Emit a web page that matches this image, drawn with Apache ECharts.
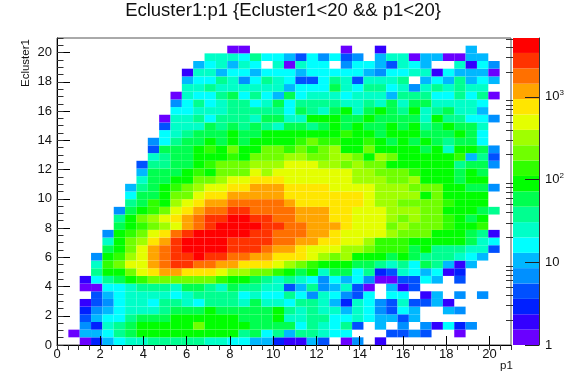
<!DOCTYPE html>
<html><head><meta charset="utf-8">
<script src="https://cdn.jsdelivr.net/npm/echarts@6/dist/echarts.min.js"></script>
<style>html,body{margin:0;padding:0;background:#fff}#c{width:567px;height:384px}</style>
</head><body><div id="c"></div>
<script>
const binWidth = 0.525;
const xTickValues = [0,2,4,6,8,10,12,14,16,18,20];
const yTickValues = [0,2,4,6,8,10,12,14,16,18,20];
const colorTickValues = [1,10,100,1000];
const colorMinorValues = [2,3,4,5,6,7,8,9,20,30,40,50,60,70,80,90,200,300,400,500,600,700,800,900,2000,3000,4000,5000];
const contourEdges = [1,1.534,2.354,3.61,5.54,8.5,13,20,30.6,47,72.1,110.6,169.7,260,399,613,940,1443,2213,3396,5150];
const palette = ['#6a00ff','#3300ff','#0020ff','#0050ff','#0090ff','#00b8ff','#00ffff','#00ffc8','#00ff90','#00ff50','#00ff00','#30ff00','#70ff00','#a0ff00','#e4ff00','#ffe600','#ffa500','#ff7000','#ff3300','#ff0000'];

// counts per bin, each row is one Ecluster1 bin from the bottom, each entry one p1 bin from the left
const row00=[0,0,1,3,10,16,25,25,38,38,38,38,38,25,25,16,16,10,10,3,2,2,10,4,0,1,7,0,2];
const row01=[0,1,10,10,16,38,58,90,90,90,90,90,90,90,90,90,38,58,16,38,10,38,38,25,16,16,0,0,0,4,4,7,4,0,0,1];
const row02=[0,0,7,3,25,38,58,90,90,90,90,90,210,90,90,90,90,58,58,58,58,16,38,25,16,38,4,0,10,0,7,0,7,2,16,3,7];
const row03=[0,0,4,10,16,16,38,58,58,58,90,90,90,90,90,90,58,58,58,90,25,25,38,38,16,16,25,16,10,10,4,10];
const row04=[0,0,3,7,10,16,25,25,25,38,58,58,58,90,58,58,58,58,58,90,38,25,38,25,25,10,25,16,7,4,16,10,0,0,10,7];
const row05=[0,0,2,4,7,16,25,25,16,38,38,25,16,38,38,38,25,58,25,25,16,38,38,25,10,3,25,16,7,4,25,4,4,10,2];
const row06=[0,0,0,4,10,16,25,25,25,25,16,25,38,38,38,38,16,25,16,16,38,16,7,25,16,7,4,16,0,16,16,0,2,10,0,7,0,7];
const row07=[0,0,1,1,16,16,25,38,38,38,25,58,58,38,25,58,38,38,25,25,4,10,38,7,10,25,4,1,0,10,2,4];
const row08=[0,0,2,16,38,58,90,137,210,210,210,210,210,210,137,90,90,58,38,25,38,25,16,7,16,10,16,7,1,1,4,4,16,10,0,4];
const row09=[0,0,0,38,90,90,210,490,750,1150,1150,750,750,750,490,320,320,210,210,137,90,58,90,25,58,58,16,38,3,4,25,16,10,16,2,3];
const row10=[0,0,0,25,137,210,490,490,1150,1780,2700,2700,1780,1780,1150,1150,750,750,750,490,320,210,137,90,90,90,58,58,38,25,38,16,58,38,10,2,10];
const row11=[0,0,0,7,90,137,320,490,1150,1780,2700,2700,4200,2700,2700,1780,1780,1150,1150,750,750,750,490,320,210,320,90,90,90,58,90,58,38,38,38,25,16,10];
const row12=[0,0,0,0,58,90,210,490,1150,1780,2700,4200,4200,4200,4200,2700,2700,2700,1780,1150,1150,750,490,490,490,320,320,210,137,137,137,58,90,38,38,38,25,25,4];
const row13=[0,0,0,0,25,90,210,320,750,1150,2700,4200,4200,4200,4200,2700,2700,2700,2700,1780,1780,1150,1150,750,750,490,490,320,137,137,137,90,90,90,90,90,58,25,16];
const row14=[0,0,0,0,7,90,137,210,490,750,1780,2700,4200,4200,4200,4200,4200,2700,2700,1780,1780,1780,1150,1150,750,490,490,490,490,320,210,210,210,90,90,90,58,38,2];
const row15=[0,0,0,0,0,58,90,137,210,320,490,1150,1780,2700,4200,4200,4200,4200,2700,2700,1780,1780,1150,1150,1150,750,490,490,490,210,320,210,210,210,137,90,90,137];
const row16=[0,0,0,0,0,38,90,210,320,490,750,1150,1780,2700,2700,4200,4200,2700,2700,1780,1780,1150,1150,1150,750,750,490,490,490,320,210,320,210,210,137,90,58,90];
const row17=[0,0,0,0,0,7,58,90,137,210,490,750,1150,1780,1780,2700,2700,1780,1780,1780,1780,1150,1150,1150,750,750,490,490,490,320,320,320,210,210,90,90,90,58,38];
const row18=[0,0,0,0,0,0,38,58,137,90,320,490,750,1150,1150,1780,1780,1780,1780,1780,1150,750,750,750,750,750,750,490,320,320,210,210,210,210,137,90,90,90];
const row19=[0,0,0,0,0,0,16,58,58,90,210,210,490,750,750,1150,1150,1150,1150,1150,750,750,750,750,750,750,750,490,320,320,320,320,90,210,90,90,90,90];
const row20=[0,0,0,0,0,0,10,38,58,90,137,210,320,490,490,750,750,1150,1150,1150,750,750,750,750,490,490,490,490,320,320,320,210,210,210,90,90,58,58,7];
const row21=[0,0,0,0,0,0,0,25,58,58,90,90,210,210,320,490,490,750,750,750,490,490,490,490,490,490,320,320,320,210,210,320,90,90,90,58,90,90];
const row22=[0,0,0,0,0,0,0,10,58,58,58,90,137,90,210,210,210,490,320,490,490,490,490,490,490,490,320,320,210,210,210,137,90,90,90,58,90,58];
const row23=[0,0,0,0,0,0,0,4,38,38,58,58,90,137,210,210,210,320,320,320,490,490,490,320,320,210,320,210,210,90,90,90,90,90,90,38,58,58,7];
const row24=[0,0,0,0,0,0,0,0,25,38,58,58,90,90,90,137,90,210,210,210,320,320,210,210,320,320,210,90,320,210,90,90,90,90,90,137,10,38,4];
const row25=[0,0,0,0,0,0,0,0,4,58,58,58,90,137,90,210,90,90,210,210,137,210,137,210,320,90,90,210,90,90,90,90,58,90,25,90,90,58,7];
const row26=[0,0,0,0,0,0,0,0,7,16,38,58,58,90,58,90,58,90,90,90,90,137,210,137,137,90,90,137,90,58,90,58,90,58,38,58,58,16];
const row27=[0,0,0,0,0,0,0,0,0,16,25,38,58,58,58,90,58,58,90,90,90,90,90,90,90,137,90,90,58,90,90,90,58,58,58,90,58,16];
const row28=[0,0,0,0,0,0,0,0,0,4,25,25,25,58,38,58,38,58,38,25,58,58,38,58,90,58,90,58,58,90,58,90,38,58,90,58,58,25];
const row29=[0,0,0,0,0,0,0,0,0,1,25,25,38,16,38,38,38,25,58,58,25,25,90,90,90,58,58,90,58,58,58,58,25,90,38,38,16,16,7];
const row30=[0,0,0,0,0,0,0,0,0,0,16,16,25,25,25,38,38,38,38,38,16,58,38,25,58,90,25,58,90,58,38,90,25,38,58,25,25,10];
const row31=[0,0,0,0,0,0,0,0,0,0,7,16,38,16,25,38,38,16,25,58,16,38,38,38,38,25,25,38,25,58,25,58,58,25,25,25,25,16];
const row32=[0,0,0,0,0,0,0,0,0,0,1,25,16,16,38,58,16,38,16,10,58,16,25,25,25,16,25,25,25,10,38,38,38,16,16,38,16,38,1];
const row33=[0,0,0,0,0,0,0,0,0,0,0,25,25,38,25,25,25,25,25,25,10,16,16,16,58,25,16,38,38,16,25,7,25,38,25,38,25,25];
const row34=[0,0,0,0,0,0,0,0,0,0,0,10,16,16,38,25,7,16,38,25,16,4,4,16,38,25,4,25,25,25,38,0,10,16,10,38,10,16,10];
const row35=[0,0,0,0,0,0,0,0,0,0,0,2,25,25,10,16,16,10,16,16,16,10,16,16,16,16,16,10,7,16,16,25,25,2,16,10,10,10,1];
const row36=[0,0,0,0,0,0,0,0,0,0,0,0,10,16,25,10,25,16,0,25,1,25,16,16,0,7,16,16,10,4,25,16,10,0,0,25,2,16,7];
const row37=[0,0,0,0,0,0,0,0,0,0,0,0,0,25,25,25,16,38,16,16,10,4,16,7,16,4,7,0,10,25,25,1,10,10,1,1,10,10];
const row38=[0,0,0,0,0,0,0,0,0,0,0,0,0,0,0,1,1,0,0,0,0,0,0,0,0,1,0,0,2,0,0,0,0,0,0,0,10];
const rows=[row00,row01,row02,row03,row04,row05,row06,row07,row08,row09,row10,row11,row12,row13,row14,row15,row16,row17,row18,row19,row20,row21,row22,row23,row24,row25,row26,row27,row28,row29,row30,row31,row32,row33,row34,row35,row36,row37,row38];

function colorOf(v){
  for(let i=0;i<palette.length;i++){ if(v<contourEdges[i+1]) return palette[i]; }
  return palette[palette.length-1];
}
const cells=[];
rows.forEach((r,j)=>r.forEach((v,i)=>{ if(v>0) cells.push([i*binWidth,j*binWidth,(i+1)*binWidth,(j+1)*binWidth,v]); }));
const bands=palette.map((c,i)=>[0,contourEdges[i],1,contourEdges[i+1],i]);

const textColor='#111';
const chart=echarts.init(document.getElementById('c'),null,{renderer:'canvas'});
function rectItem(params,api,fill){
  const p0=api.coord([api.value(0),api.value(1)]);
  const p1=api.coord([api.value(2),api.value(3)]);
  return {type:'rect',shape:{x:p0[0],y:p1[1],width:p1[0]-p0[0],height:p0[1]-p1[1]},style:{fill:fill}};
}
chart.setOption({
  animation:false,
  backgroundColor:'#fff',
  textStyle:{fontFamily:'Liberation Sans'},
  title:{text:'Ecluster1:p1 {Ecluster1<20 && p1<20}',left:283,top:1,padding:0,textAlign:'center',
    textStyle:{fontFamily:'Liberation Sans',fontSize:18.5,fontWeight:'normal',color:textColor}},
  graphic:[
    {type:'text',left:500,top:360,style:{text:'p1',fontFamily:'Liberation Sans',fontSize:11.5,fill:textColor}},
    {type:'text',x:20,y:87,rotation:Math.PI/2,style:{text:'Ecluster1',fontFamily:'Liberation Sans',fontSize:11.5,fill:textColor}}
  ],
  grid:[
    {left:57,top:38,width:454,height:307,show:true,borderColor:'#555',borderWidth:1,backgroundColor:'#fff'},
    {left:513,top:38,width:26,height:307}
  ],
  xAxis:[
    {gridIndex:0,type:'value',min:0,max:21,interval:2,z:5,splitLine:{show:false},
      axisLine:{show:true,onZero:false,lineStyle:{color:'#000',width:1}},
      axisTick:{show:true,inside:true,length:9,customValues:xTickValues,lineStyle:{color:'#000'}},
      axisLabel:{show:true,customValues:xTickValues,color:textColor,fontSize:13,margin:3}},
    {gridIndex:0,type:'value',min:0,max:21,interval:0.5,z:5,splitLine:{show:false},
      axisLine:{show:false},axisLabel:{show:false},
      axisTick:{show:true,inside:true,length:5,lineStyle:{color:'#333'}}},
    {gridIndex:1,type:'value',min:0,max:1,show:false}
  ],
  yAxis:[
    {gridIndex:0,type:'value',min:0,max:21,interval:2,z:5,splitLine:{show:false},
      axisLine:{show:true,onZero:false,lineStyle:{color:'#000',width:1}},
      axisTick:{show:true,inside:true,length:13,customValues:yTickValues,lineStyle:{color:'#000'}},
      axisLabel:{show:true,customValues:yTickValues,color:textColor,fontSize:13,margin:5}},
    {gridIndex:0,type:'value',min:0,max:21,interval:0.5,z:5,splitLine:{show:false},position:'left',
      axisLine:{show:false},axisLabel:{show:false},
      axisTick:{show:true,inside:true,length:6.5,lineStyle:{color:'#333'}}},
    {gridIndex:1,type:'log',logBase:10,min:1,max:5150,position:'right',z:5,splitLine:{show:false},
      axisLine:{show:true,onZero:false,lineStyle:{color:'#333'}},
      axisTick:{show:true,inside:true,length:14,customValues:colorTickValues,lineStyle:{color:'#222'}},
      axisLabel:{show:true,customValues:colorTickValues,color:textColor,fontSize:13,margin:6,
        formatter:v=>{const e=Math.round(Math.log10(v));return e===0?'1':e===1?'10':'10{s|'+e+'}';},
        rich:{s:{fontSize:8,verticalAlign:'top',lineHeight:16,padding:[0,0,6,0]}}}},
    {gridIndex:1,type:'log',logBase:10,min:1,max:5150,position:'right',z:5,splitLine:{show:false},
      axisLine:{show:false},axisLabel:{show:false},
      axisTick:{show:true,inside:true,length:7,customValues:colorMinorValues,lineStyle:{color:'#333'}}}
  ],
  series:[
    {type:'custom',xAxisIndex:0,yAxisIndex:0,z:1,silent:true,clip:true,data:cells,
      encode:{x:[0,2],y:[1,3]},
      renderItem:(p,api)=>rectItem(p,api,colorOf(api.value(4)))},
    {type:'custom',xAxisIndex:2,yAxisIndex:2,z:1,silent:true,data:bands,
      encode:{x:[0,2],y:[1,3]},
      renderItem:(p,api)=>rectItem(p,api,palette[api.value(4)])}
  ]
});
</script></body></html>
